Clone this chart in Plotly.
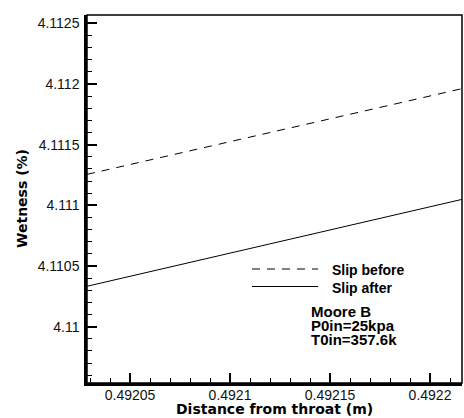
import plotly.graph_objects as go

# Data
x_vals = [0.4920285, 0.492216]
slip_before = [4.111255, 4.111961]
slip_after = [4.110333, 4.111049]
x_tickvals = [0.49205, 0.4921, 0.49215, 0.4922]
x_ticktext = ["0.49205", "0.4921", "0.49215", "0.4922"]
y_tickvals = [4.11, 4.1105, 4.111, 4.1115, 4.112, 4.1125]
y_ticktext = ["4.11", "4.1105", "4.111", "4.1115", "4.112", "4.1125"]
legend_names = ["Slip before", "Slip after"]
info_lines = ["Moore B", "P0in=25kpa", "T0in=357.6k"]

ARIAL = "Liberation Sans, Arial, sans-serif"
WIDE = "DejaVu Sans, Verdana, sans-serif"

# plot area in pixels
L, R, T, B = 87, 462, 15, 383
def px(x):
    return (x - L) / (R - L)
def py(y):
    return (B - y) / (B - T)

fig = go.Figure()
fig.add_trace(go.Scatter(x=x_vals, y=slip_before, mode="lines",
                         line=dict(color="black", width=1, dash="8px,7px"),
                         name=legend_names[0], showlegend=False))
fig.add_trace(go.Scatter(x=x_vals, y=slip_after, mode="lines",
                         line=dict(color="black", width=1),
                         name=legend_names[1], showlegend=False))

fig.update_layout(
    width=464, height=418,
    margin=dict(l=L, r=464 - R, t=T, b=418 - B),
    paper_bgcolor="white", plot_bgcolor="white",
    font=dict(family=ARIAL, color="#111", size=14),
    xaxis=dict(range=[0.4920285, 0.492216], tickvals=x_tickvals, ticktext=x_ticktext,
               ticks="inside", ticklen=10, tickwidth=2, tickcolor="black",
               showline=True, linecolor="black", linewidth=2.5,
               showgrid=False, zeroline=False, ticklabelstandoff=-3,
               minor=dict(ticks="inside", ticklen=5, tickwidth=1, tickcolor="black", dtick=0.00001, showgrid=False),
               tickfont=dict(family=ARIAL, size=14, color="#111")),
    yaxis=dict(range=[4.109536, 4.112568], tickvals=y_tickvals, ticktext=y_ticktext,
               ticks="inside", ticklen=10, tickwidth=2, tickcolor="black",
               showline=True, linecolor="black", linewidth=2.5,
               showgrid=False, zeroline=False, ticklabelstandoff=2,
               minor=dict(ticks="inside", ticklen=5, tickwidth=1, tickcolor="black", dtick=0.0001, showgrid=False),
               tickfont=dict(family=ARIAL, size=14, color="#111")),
)

# frame (top/right)
fig.add_shape(type="rect", xref="paper", yref="paper", x0=0, y0=0, x1=1, y1=1,
              line=dict(color="black", width=1.5))

# axis titles
fig.add_annotation(xref="paper", yref="paper", x=px(274.5), y=py(409), text="<b>Distance from throat (m)</b>",
                   showarrow=False, xanchor="center", yanchor="middle",
                   font=dict(family=WIDE, size=14, color="black"))
fig.add_annotation(xref="paper", yref="paper", x=px(22), y=py(199), text="<b>Wetness (%)</b>",
                   showarrow=False, xanchor="center", yanchor="middle", textangle=-90,
                   font=dict(family=WIDE, size=14, color="black"))

# legend samples
leg_y = [269, 286.5]
dashes = ["8px,7px", "solid"]
for name, yy, d in zip(legend_names, leg_y, dashes):
    fig.add_shape(type="line", xref="paper", yref="paper", x0=px(252), x1=px(318), y0=py(yy), y1=py(yy),
                  line=dict(color="black", width=1, dash=d))
    fig.add_annotation(xref="paper", yref="paper", x=px(330), y=py(yy + 1), text="<b>%s</b>" % name,
                       showarrow=False, xanchor="left", yanchor="middle",
                       font=dict(family=ARIAL, size=14, color="black"))

info_y = [310, 324.5, 338.5]
for line, yy in zip(info_lines, info_y):
    fig.add_annotation(xref="paper", yref="paper", x=px(309), y=py(yy + 1),
                       text="<b>%s</b>" % line,
                       showarrow=False, xanchor="left", yanchor="middle",
                       font=dict(family=ARIAL, size=15, color="black"))

fig.write_html("out.html")
